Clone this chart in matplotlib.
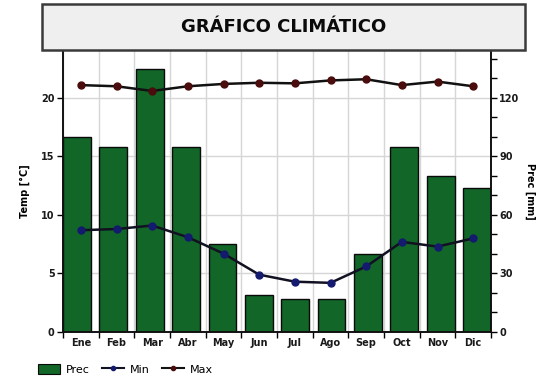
import numpy as np
import matplotlib.pyplot as plt
from matplotlib.patches import Rectangle, Patch
from matplotlib.lines import Line2D

# monthly climate data
meses = ["Ene", "Feb", "Mar", "Abr", "May", "Jun", "Jul", "Ago", "Sep", "Oct", "Nov", "Dic"]
prec = [100, 95, 135, 95, 45, 19, 17, 17, 40, 95, 80, 74]
t_max = [21.1, 21.0, 20.6, 21.0, 21.2, 21.3, 21.25, 21.5, 21.6, 21.1, 21.4, 21.0]
t_min = [8.7, 8.8, 9.1, 8.1, 6.7, 4.9, 4.3, 4.2, 5.6, 7.7, 7.3, 8.0]

temp_ticks = [0, 5, 10, 15, 20]
prec_ticks = [0, 30, 60, 90, 120]

verde = "#116628"
azul = "#141a6e"
granate = "#4a0c0c"
tick_font = dict(fontsize=7, color="#1a1a1a", fontweight="bold")

fig = plt.figure(figsize=(5.4, 3.8), dpi=100)
fig.patch.set_facecolor("white")

ax_p = fig.add_axes([63 / 540, 1 - 332 / 380, 428 / 540, 282 / 380])
ax_t = ax_p.twinx()

n = len(meses)
centros = np.arange(n) + 0.5
ancho = 0.78
pos_barras = np.linspace(ancho / 2, n - ancho / 2, n)

# precipitation bars on the right-hand scale
ax_p.bar(pos_barras, prec, width=ancho, color=verde, edgecolor="#0a0a0a",
         linewidth=1.0, zorder=2)
ax_p.set_ylim(0, 144.6)
ax_p.set_xlim(0, n)
ax_p.yaxis.tick_right()
ax_p.yaxis.set_label_position("right")
ax_p.set_yticks(prec_ticks)
ax_p.set_yticks(np.arange(0, 145, 10), minor=True)
ax_p.set_yticklabels([str(v) for v in prec_ticks], **tick_font)
ax_p.tick_params(axis="y", which="both", direction="out", length=4, width=1, pad=2)
ax_p.set_ylabel("Prec [mm]", rotation=270, fontsize=7, fontweight="bold",
                labelpad=11)

# month ticks: marks on the boundaries, labels in the middle
ax_p.set_xticks(np.arange(n + 1))
ax_p.set_xticklabels([])
ax_p.set_xticks(centros, minor=True)
ax_p.set_xticklabels(meses, minor=True, **tick_font)
ax_p.tick_params(axis="x", which="major", direction="out", length=4, width=1)
ax_p.tick_params(axis="x", which="minor", length=0, pad=4)

# grid behind everything
ax_p.set_axisbelow(True)
ax_p.grid(axis="x", which="major", color="#d6d6d6", linewidth=1)
for v in temp_ticks[1:]:
    ax_p.axhline(v * 6, color="#d6d6d6", linewidth=1, zorder=0)

# temperature lines on the left-hand scale
ax_t.plot(centros, t_max, color="#111111", linewidth=1.8, marker="o",
          markersize=5, markerfacecolor=granate, markeredgecolor=granate, zorder=4)
ax_t.plot(centros, t_min, color="#111122", linewidth=1.8, marker="o",
          markersize=5, markerfacecolor=azul, markeredgecolor=azul, zorder=4)
ax_t.set_ylim(0, 24.1)
ax_t.yaxis.tick_left()
ax_t.yaxis.set_label_position("left")
ax_t.set_yticks(temp_ticks)
ax_t.set_yticklabels([str(v) for v in temp_ticks], **tick_font)
ax_t.tick_params(axis="y", direction="out", length=4, width=1, pad=2)
ax_t.set_ylabel("Temp [°C]", fontsize=7, fontweight="bold", labelpad=8)

for a in (ax_p, ax_t):
    a.spines["top"].set_visible(False)
    for s in ("left", "right", "bottom"):
        a.spines[s].set_color("#111111")
        a.spines[s].set_linewidth(1.2)

# title box
caja = Rectangle((42 / 540, 1 - 50 / 380), 483 / 540, 46 / 380,
                 transform=fig.transFigure, facecolor="#efefef",
                 edgecolor="#3a3a3a", linewidth=1.8, zorder=5)
fig.add_artist(caja)
fig.text(283.5 / 540, 1 - 27 / 380, "GRÁFICO CLIMÁTICO", ha="center", va="center",
         fontsize=13, fontweight="heavy", color="#0a0a0a", zorder=6)

# legend
handles = [
    Patch(facecolor=verde, edgecolor="#0a0a0a", linewidth=0.8),
    Line2D([], [], color="#111122", linewidth=1.5, marker="o", markersize=3,
           markerfacecolor=azul, markeredgecolor=azul),
    Line2D([], [], color="#111111", linewidth=1.5, marker="o", markersize=3,
           markerfacecolor=granate, markeredgecolor=granate),
]
fig.legend(handles, ["Prec", "Min", "Max"], loc="lower left",
           bbox_to_anchor=(28 / 540, -0.012), ncol=3, frameon=False,
           fontsize=8, handlelength=2.0, handleheight=1.0, columnspacing=1.1,
           handletextpad=0.5)

fig.savefig("out.png", dpi=100)
